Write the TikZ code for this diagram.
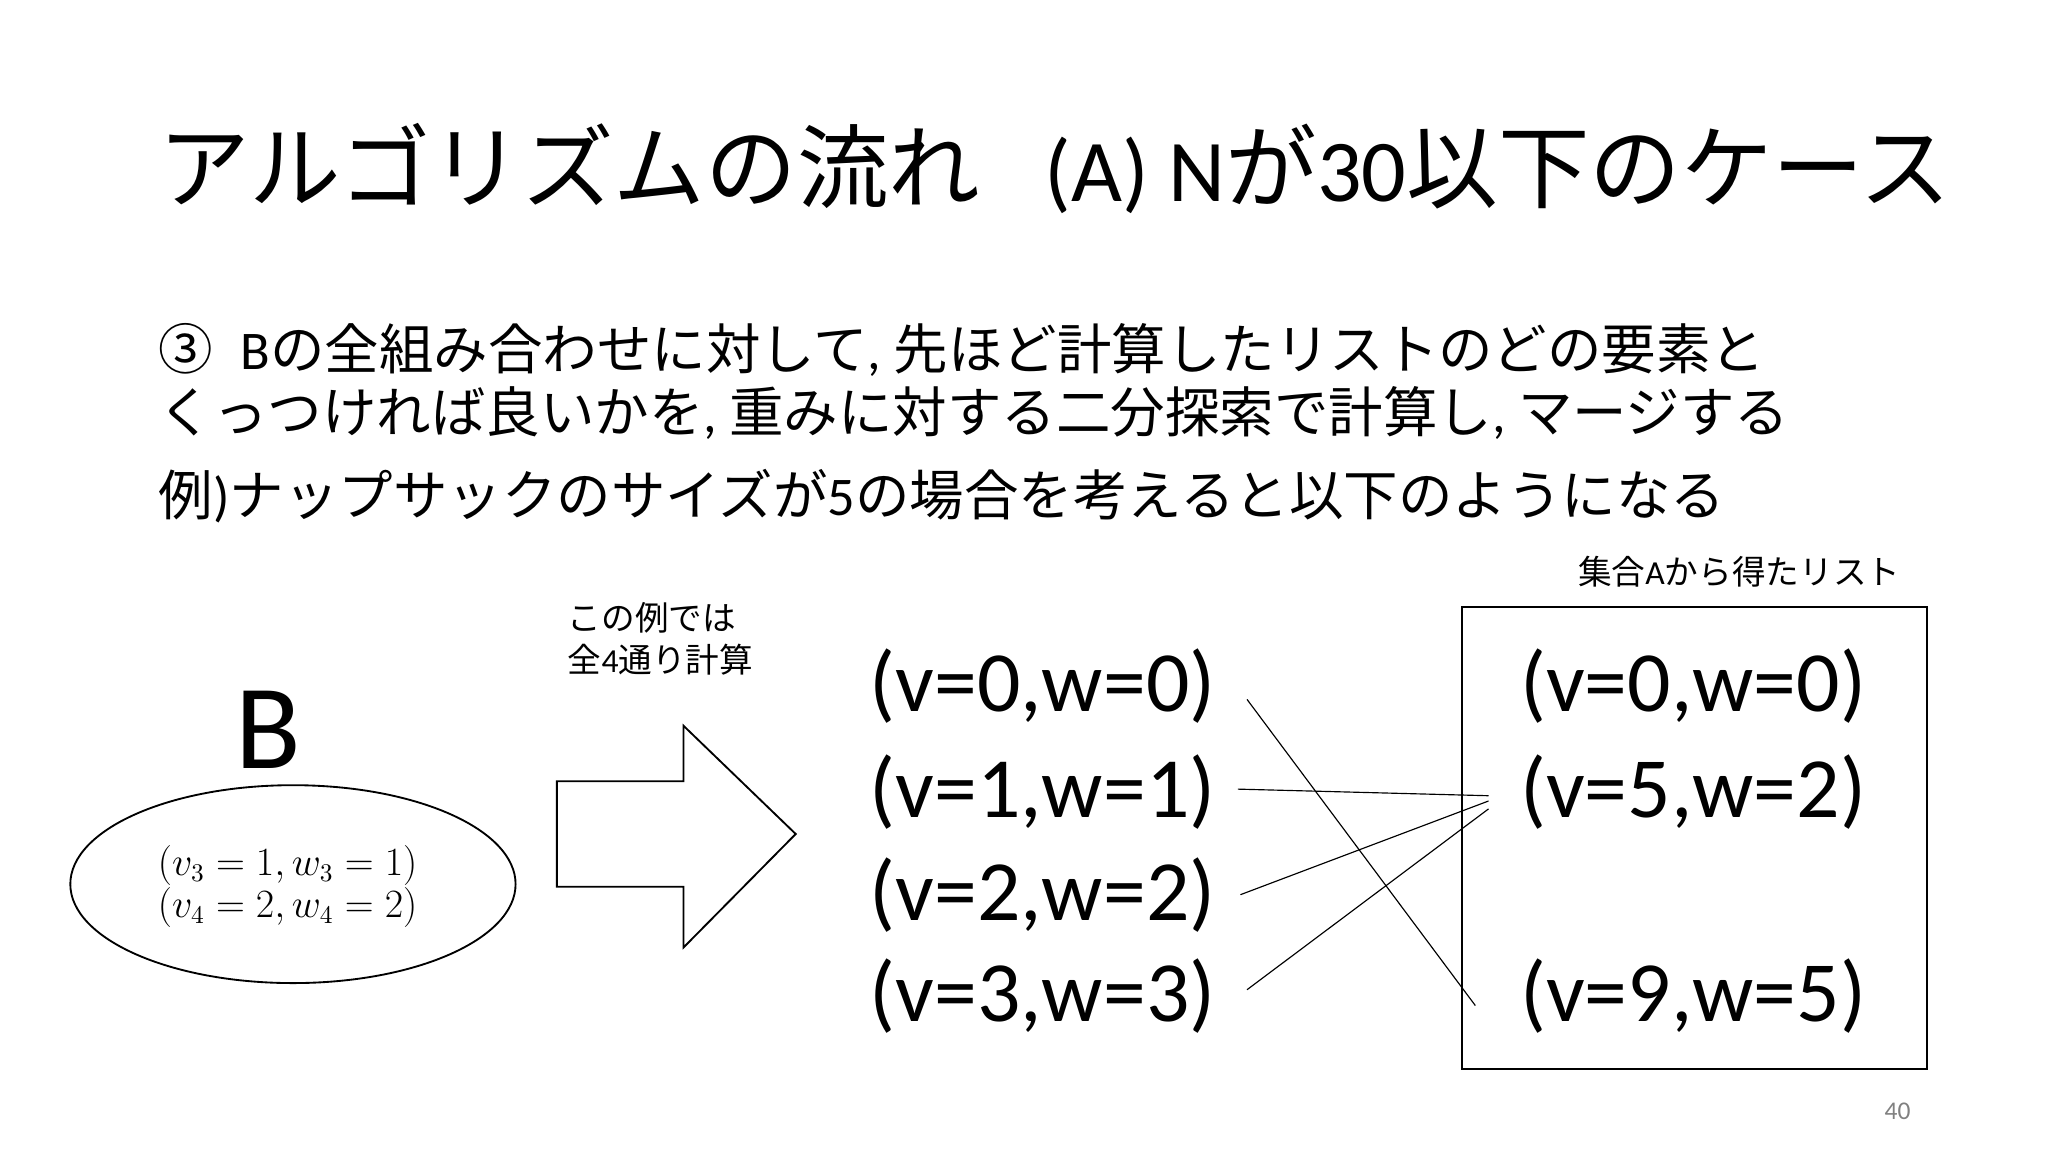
\documentclass[tikz,border=0pt]{standalone}
\usepackage{fontspec}
\setmainfont{Noto Sans CJK JP}
\newfontfamily\lat{Carlito}
\usetikzlibrary{shapes.geometric}
\begin{document}
\begin{tikzpicture}[x=0.02cm,y=-0.02cm,
  tup/.style={font=\lat\fontsize{37}{40}\selectfont,inner sep=0},
  body/.style={anchor=west,inner sep=0,font=\fontsize{23.5}{26}\selectfont},
  conn/.style={line width=0.5pt}]
\useasboundingbox (0,0) rectangle (1552,873);
\node[anchor=west,inner sep=0,font=\fontsize{39.5}{42}\selectfont] (title) at (120,128) {アルゴリズムの流れ\hspace{0.7em}{\lat\fontsize{38}{40}\selectfont (A) N}が{\lat\fontsize{38}{40}\selectfont 30}以下のケース};
\node[body] (l1) at (120,265) {③\hspace{0.5em}{\lat B}の全組み合わせに対して{\lat ,} 先ほど計算したリストのどの要素と};
\node[body] (l2) at (120,313) {くっつければ良いかを{\lat ,} 重みに対する二分探索で計算し{\lat ,} マージする};
\node[body] (l3) at (120,376) {例{\lat )}ナップサックのサイズが{\lat 5}の場合を考えると以下のようになる};
\node[inner sep=0,font=\fontsize{14.5}{16}\selectfont] (lab) at (1318,433) {集合{\lat A}から得たリスト};
\draw[line width=0.8pt] (1108,460) rectangle (1460,810);
\node[anchor=north west,inner sep=0,align=left,font=\fontsize{14.5}{18}\selectfont] (note) at (430,456) {この例では\\全{\lat 4}通り計算};
\node[inner sep=0,font=\lat\fontsize{52}{56}\selectfont] (B) at (203,553) {B};
\node[draw,ellipse,inner sep=0,line width=0.8pt,minimum width=6.75cm,minimum height=3.0cm] (ell) at (222,670) {};
\node[align=center,inner sep=0,font=\fontsize{16}{18}\selectfont] (m) at (218,672) {$(v_3=1,w_3=1)$\\$(v_4=2,w_4=2)$};
\draw[line width=0.8pt] (422,592) -- (518,592) -- (518,550) -- (603,632) -- (518,718) -- (518,672) -- (422,672) -- cycle;
\node[tup] (a0) at (790,520) {(v=0,w=0)};
\node[tup] (a1) at (790,600) {(v=1,w=1)};
\node[tup] (a2) at (790,678) {(v=2,w=2)};
\node[tup] (a3) at (790,755) {(v=3,w=3)};
\node[tup] (b0) at (1283,520) {(v=0,w=0)};
\node[tup] (b5) at (1283,600) {(v=5,w=2)};
\node[tup] (b9) at (1283,755) {(v=9,w=5)};
\coordinate (s0) at (945,530); \coordinate (e0) at (1118,762);
\coordinate (s1) at (938,598); \coordinate (e1) at (1128,603);
\coordinate (s2) at (940,678); \coordinate (e2) at (1128,607);
\coordinate (s3) at (945,750); \coordinate (e3) at (1128,613);
\draw[conn] (s0) -- (e0);
\draw[conn] (s1) -- (e1);
\draw[conn] (s2) -- (e2);
\draw[conn] (s3) -- (e3);
\node[inner sep=0,text=gray,font=\lat\fontsize{11}{12}\selectfont] (pg) at (1438,842) {40};
\end{tikzpicture}
\end{document}
